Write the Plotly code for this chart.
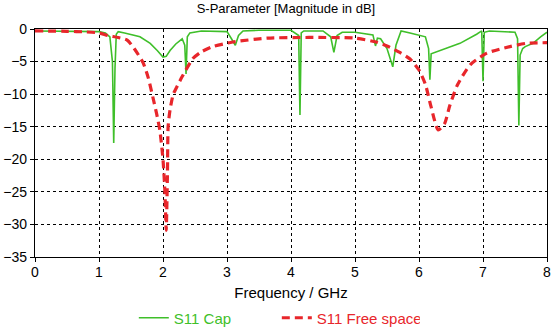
import plotly.graph_objects as go

# S11 Cap (green)
cap_freq = [0, 0.5, 1.0, 1.1, 1.17, 1.21, 1.23, 1.25, 1.27, 1.3, 1.4, 1.64, 1.8, 1.91,
            2.0, 2.05, 2.11, 2.2, 2.3, 2.34, 2.36, 2.38, 2.42, 2.6, 3.0, 3.07, 3.13, 3.18,
            3.25, 3.5, 4.0, 4.12, 4.14, 4.16, 4.2, 4.5, 4.62, 4.67, 4.72, 4.8, 5.0, 5.28,
            5.32, 5.35, 5.4, 5.5, 5.59, 5.64, 5.72, 5.86, 6.1, 6.15, 6.17, 6.19, 6.28, 6.4,
            6.64, 6.9, 6.98, 7.0, 7.02, 7.1, 7.3, 7.5, 7.54, 7.56, 7.58, 7.62, 7.66, 7.78,
            7.9, 8.0]
cap_db = [-0.3, -0.3, -0.4, -0.6, -1.2, -5.0, -17.5, -6.0, -0.8, -0.4, -0.6, -1.2, -2.2, -3.3,
          -4.3, -4.2, -3.3, -2.3, -1.5, -2.5, -6.9, -1.2, -0.6, -0.3, -0.4, -1.5, -2.5, -1.0,
          -0.3, -0.2, -0.2, -1.0, -13.2, -0.6, -0.3, -0.3, -1.2, -3.6, -1.0, -0.5, -0.5, -0.9,
          -2.6, -1.4, -1.5, -3.0, -5.8, -2.5, -0.3, -0.6, -1.2, -3.0, -7.8, -3.8, -3.5, -3.0,
          -2.2, -0.8, -0.3, -8.0, -0.5, -0.3, -0.4, -0.5, -1.5, -14.8, -4.0, -3.0, -2.7, -2.2,
          -1.2, -0.5]

# S11 Free space (red dashed)
free_freq = [0, 0.5, 0.8, 1.0, 1.14, 1.3, 1.44, 1.55, 1.69, 1.77, 1.84, 1.9, 1.95, 2.0,
             2.03, 2.05, 2.07, 2.08, 2.11, 2.16, 2.19, 2.3, 2.47, 2.6, 2.78, 3.09, 3.63,
             4.28, 5.0, 5.33, 5.5, 5.7, 5.86, 6.0, 6.1, 6.19, 6.3, 6.4, 6.48, 6.6, 6.8,
             7.06, 7.42, 7.68, 8.0]
free_db = [-0.3, -0.35, -0.45, -0.6, -1.0, -1.3, -1.7, -3.0, -5.2, -7.5, -10.4, -13.0, -15.5, -20.0,
           -25.0, -30.9, -22.0, -15.0, -12.4, -10.0, -9.4, -7.3, -4.5, -3.5, -2.7, -2.0, -1.4,
           -1.3, -1.4, -2.0, -2.6, -3.6, -4.6, -6.3, -8.5, -12.0, -15.5, -14.5, -11.8, -8.6, -5.5,
           -3.7, -2.7, -2.2, -2.1]

x_ticks = [0, 1, 2, 3, 4, 5, 6, 7, 8]
y_ticks = [0, -5, -10, -15, -20, -25, -30, -35]

GREEN = "#3fbf2a"
RED = "#e8262b"

fig = go.Figure()
fig.add_trace(go.Scatter(x=cap_freq, y=cap_db, mode="lines",
                         line=dict(color=GREEN, width=1.6),
                         name=f"<span style='color:{GREEN}'>S11 Cap</span>"))
fig.add_trace(go.Scatter(x=free_freq, y=free_db, mode="lines",
                         line=dict(color=RED, width=3.2, dash="8px,5px", shape="spline", smoothing=0.6),
                         name=f"<span style='color:{RED}'>S11 Free space</span>"))

axis_common = dict(
    showline=True, linecolor="black", linewidth=1.2, mirror=True,
    showgrid=True, gridcolor="black", griddash="dot", gridwidth=1,
    ticks="outside", ticklen=4, tickcolor="black", automargin=False,
    zeroline=False, tickfont=dict(size=14, color="black"),
)

fig.update_layout(
    width=552, height=327,
    margin=dict(l=35, r=5, t=29, b=70, autoexpand=False),
    paper_bgcolor="white", plot_bgcolor="white",
    font=dict(family="Liberation Sans, Arial, sans-serif", size=14, color="black"),
    title=dict(text="S-Parameter [Magnitude in dB]", x=0.518, xanchor="center",
               y=0.975, yanchor="middle", font=dict(size=13)),
    xaxis=dict(range=[0, 8], tickvals=x_ticks, ticklabelstandoff=-2,
               title=dict(text="Frequency / GHz", standoff=8, font=dict(size=15)),
               **axis_common),
    yaxis=dict(range=[-35, 0], tickvals=y_ticks, **axis_common),
    showlegend=True,
    legend=dict(orientation="h", x=0.193, xanchor="left", y=-0.2675, yanchor="middle",
                font=dict(size=15), bgcolor="rgba(0,0,0,0)", entrywidth=98),
)

fig.write_html("out.html", config={"displayModeBar": False},
               post_script="document.body.style.margin='0px';")
